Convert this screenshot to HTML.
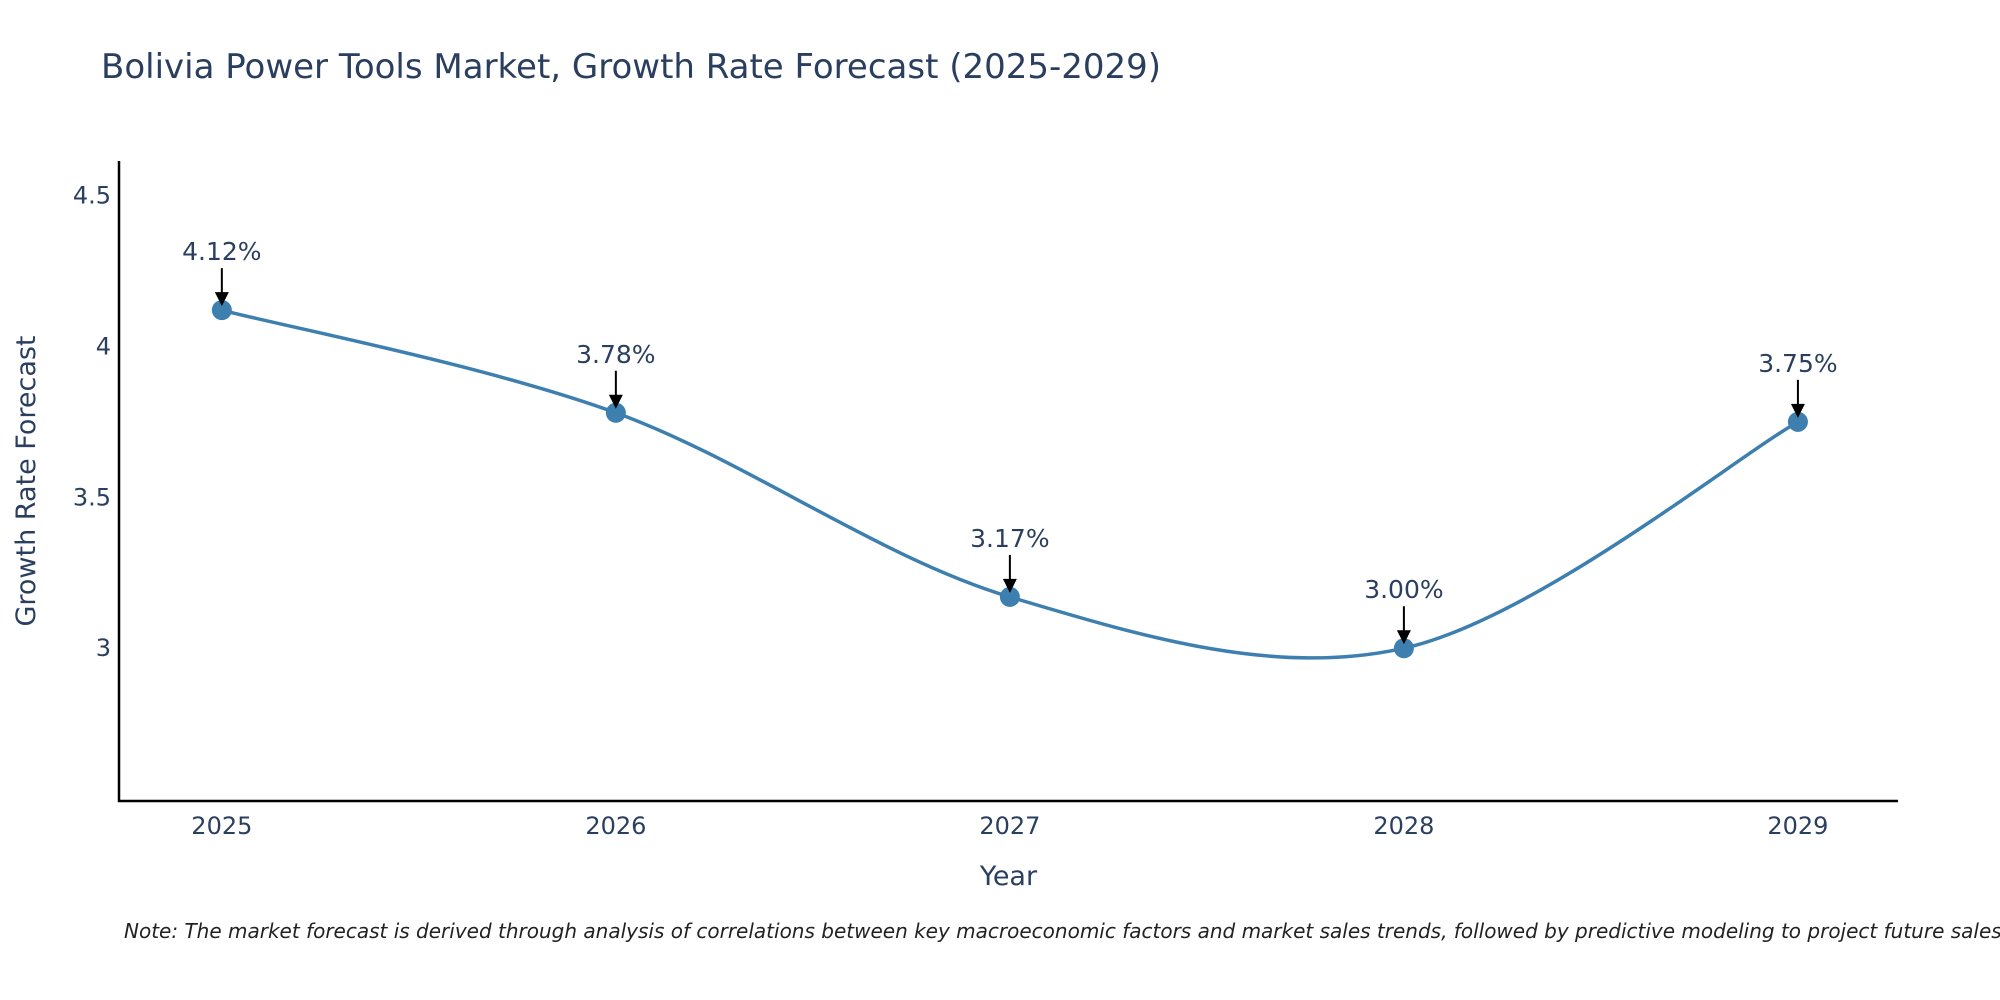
<!DOCTYPE html>
<html><head><meta charset="utf-8"><style>
body{margin:0;background:#fff;}
svg{display:block;font-family:"DejaVu Sans","Liberation Sans",sans-serif;}
</style></head><body>
<svg id="chart" width="2000" height="1000">
<text x="101" y="78" font-size="34" fill="#2a3f5f">Bolivia Power Tools Market, Growth Rate Forecast (2025-2029)</text>
<g id="axes"></g>
<g id="series"></g>
<text x="124" y="938" font-size="20" font-style="italic" fill="#222">Note: The market forecast is derived through analysis of correlations between key macroeconomic factors and market sales trends, followed by predictive modeling to project future sales.</text>
</svg>
<script>
const years = [2025, 2026, 2027, 2028, 2029];
const growth = [4.12, 3.78, 3.17, 3.00, 3.75];
const labels = ["4.12%", "3.78%", "3.17%", "3.00%", "3.75%"];
const yTicks = [3, 3.5, 4, 4.5];
const yTickLabels = ["3", "3.5", "4", "4.5"];

const NS = "http://www.w3.org/2000/svg";
const L = 119, R = 1898, T = 161, B = 801;
const xMin = 2024.739, xMax = 2029.254, yMin = 2.494, yMax = 4.614;
const xs = v => L + (v - xMin) / (xMax - xMin) * (R - L);
const ys = v => B - (v - yMin) / (yMax - yMin) * (B - T);
function mk(tag, attrs, parent){const e=document.createElementNS(NS,tag);for(const k in attrs)e.setAttribute(k,attrs[k]);parent.appendChild(e);return e;}
const axes = document.getElementById('axes'), ser = document.getElementById('series');

let e = mk('line',{x1:L,y1:T,x2:L,y2:B+1,stroke:'#000','stroke-width':2.5},axes);


e = mk('line',{x1:L-1,y1:B,x2:R,y2:B,stroke:'#000','stroke-width':2.5},axes);


yTicks.forEach((v,i)=>{
  const t = mk('text',{x:L-8,y:ys(v)+8,'text-anchor':'end','font-size':24,fill:'#2a3f5f'},axes);
  t.textContent = yTickLabels[i];
  
  
});
years.forEach(v=>{
  const t = mk('text',{x:xs(v),y:B+33,'text-anchor':'middle','font-size':24,fill:'#2a3f5f'},axes);
  t.textContent = v;
  
  
});
e = mk('text',{x:(L+R)/2,y:885,'text-anchor':'middle','font-size':27,fill:'#2a3f5f'},axes);
e.textContent='Year';


e = mk('text',{x:35,y:(T+B)/2,'text-anchor':'middle','font-size':27,fill:'#2a3f5f',transform:`rotate(-90 35 ${(T+B)/2})`},axes);
e.textContent='Growth Rate Forecast';



const pts = years.map((y,i)=>[xs(y), ys(growth[i])]);
const s = 0.33;
let d = `M${pts[0][0]},${pts[0][1]}`;
for(let i=0;i<pts.length-1;i++){
  const p0=pts[Math.max(0,i-1)],p1=pts[i],p2=pts[i+1],p3=pts[Math.min(pts.length-1,i+2)];
  const c1=[p1[0]+(p2[0]-p0[0])*s/2, p1[1]+(p2[1]-p0[1])*s/2];
  const c2=[p2[0]-(p3[0]-p1[0])*s/2, p2[1]-(p3[1]-p1[1])*s/2];
  d+=` C${c1[0]},${c1[1]} ${c2[0]},${c2[1]} ${p2[0]},${p2[1]}`;
}
e = mk('path',{d:d,fill:'none',stroke:'#3d7fae','stroke-width':3.5},ser);


pts.forEach((p,i)=>{
  const c = mk('circle',{cx:p[0],cy:p[1],r:10,fill:'#3d7fae'},ser);
  
  
  const a = mk('line',{x1:p[0],y1:p[1]-42,x2:p[0],y2:p[1]-16,stroke:'#000','stroke-width':2},ser);
  
  
  const h = mk('polygon',{points:`${p[0]-7},${p[1]-18} ${p[0]+7},${p[1]-18} ${p[0]},${p[1]-4}`,fill:'#000'},ser);
  
  
  const t = mk('text',{x:p[0],y:p[1]-50,'text-anchor':'middle','font-size':25,fill:'#2a3f5f'},ser);
  t.textContent = labels[i];
  
  
});
</script>
</body></html>
